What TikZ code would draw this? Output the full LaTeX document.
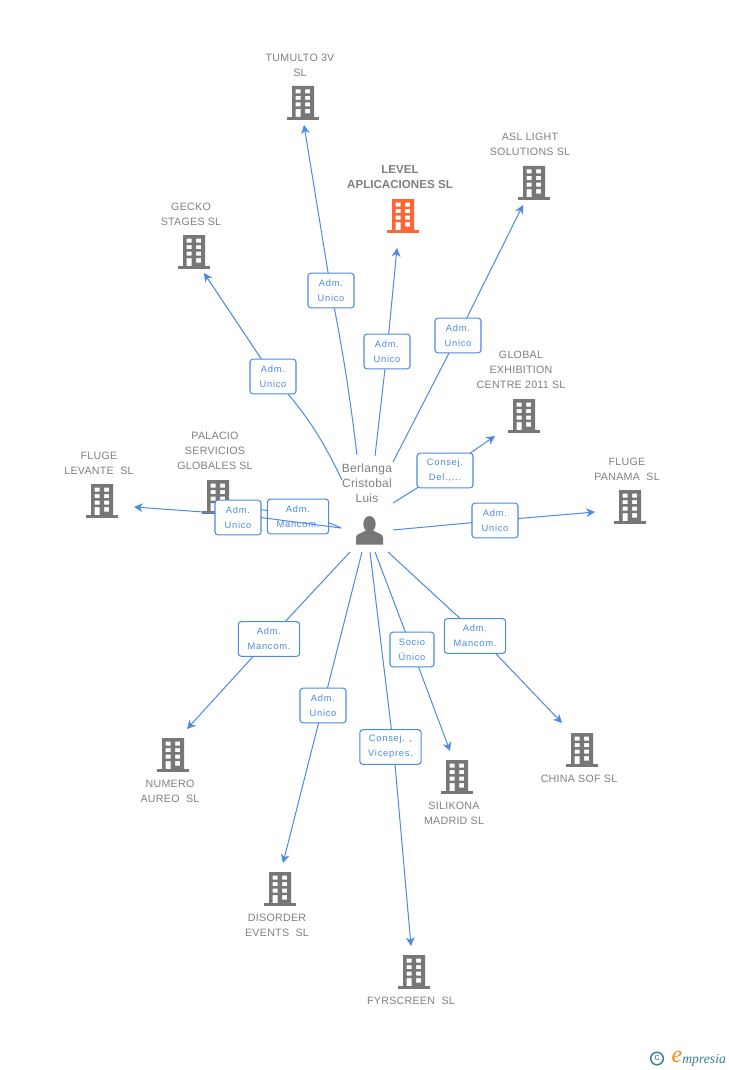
\documentclass[tikz,border=0pt]{standalone}
\usepackage{fontspec}
\setmainfont{Liberation Sans}
\newfontfamily\lblfont[LetterSpace=8]{Liberation Sans}
\newfontfamily\namefont[LetterSpace=2.5]{Liberation Sans}
\newfontfamily\logofont{Liberation Serif}
\usetikzlibrary{arrows.meta,calc}
\definecolor{edgeblue}{HTML}{4C8AE4}
\definecolor{txtgray}{HTML}{808080}
\definecolor{icongray}{HTML}{777777}
\definecolor{iconorange}{HTML}{FF6633}
\definecolor{logoteal}{HTML}{3A7F94}
\definecolor{logoorange}{HTML}{F08A1D}
\tikzset{
  x=0.75pt,y=-0.75pt,
  conn/.style={draw=edgeblue,line width=0.75pt},
  arrowed/.style={conn,-{Stealth[length=6.5pt,width=6.5pt,inset=2pt]}},
  tagbox/.style={draw=edgeblue,line width=0.8pt,rounded corners=2.2pt,fill=white,text=edgeblue,
    font=\fontsize{7}{11.2}\selectfont\lblfont,align=center,inner sep=0pt,minimum height=26pt},
  tagA/.style={tagbox,minimum width=34.5pt},
  tagB/.style={tagbox,minimum width=46pt},
  bname/.style={text=txtgray,font=\fontsize{8}{11.2}\selectfont\namefont,align=center,inner sep=0pt},
  anchorbox/.style={inner sep=0pt,minimum width=24pt,minimum height=26pt},
  pics/building/.style={code={
    \fill[#1,even odd rule]
      (-11,-17) rectangle (11,14)
      (-7.5,-13.5) rectangle (-2.5,-9.5) (2,-13.5) rectangle (7,-9.5)
      (-7.5,-7) rectangle (-2.5,-3) (2,-7) rectangle (7,-3)
      (-7.5,-0.5) rectangle (-2.5,3.5) (2,-0.5) rectangle (7,3.5)
      (-7.5,6) rectangle (-2.5,14) (2,6) rectangle (7,10.5);
    \fill[#1] (-16,14) rectangle (16,17);
  }},
}
\newcommand{\bldg}[3][icongray]{%
  \node[anchorbox] (#2) at (#3) {};
  \pic at (#3) {building=#1};
}
\begin{document}
\begin{tikzpicture}
\useasboundingbox (0,0) rectangle (728,1070);
\fill[white] (0,0) rectangle (728,1070);

% buildings
\bldg{tumulto}{303,103}
\bldg[iconorange]{level}{403,216}
\bldg{asl}{534,183}
\bldg{gecko}{194,252}
\bldg{global}{524,416}
\bldg{palacio}{218,497}
\bldg{levante}{102,501}
\bldg{panama}{630,507}
\bldg{numero}{173,755}
\bldg{disorder}{280,889}
\bldg{fyr}{414,972}
\bldg{silikona}{457,777}
\bldg{china}{582,750}

% building names
\node[bname] (n1) at (300,65) {TUMULTO 3V\\SL};
\node[bname,font=\fontsize{8.7}{11.2}\selectfont\bfseries] (n2) at (400,177) {LEVEL\\APLICACIONES SL};
\node[bname] (n3) at (530,144) {ASL LIGHT\\SOLUTIONS SL};
\node[bname] (n4) at (191,214) {GECKO\\STAGES SL};
\node[bname] (n5) at (521,370) {GLOBAL\\EXHIBITION\\CENTRE 2011 SL};
\node[bname] (n6) at (215,451) {PALACIO\\SERVICIOS\\GLOBALES SL};
\node[bname] (n7) at (99,463) {FLUGE\\LEVANTE~ SL};
\node[bname] (n8) at (627,469) {FLUGE\\PANAMA~ SL};
\node[bname] (n9) at (170,791) {NUMERO\\AUREO~ SL};
\node[bname] (n10) at (277,925) {DISORDER\\EVENTS~ SL};
\node[bname] (n11) at (411,1001) {FYRSCREEN~ SL};
\node[bname] (n12) at (454,813) {SILIKONA\\MADRID SL};
\node[bname] (n13) at (579,779) {CHINA SOF SL};

% person
\node[inner sep=0pt,minimum width=28pt,minimum height=28pt] (person) at (370,530) {};
\fill[icongray] (369.5,524) ellipse (6.2 and 8);
\fill[icongray] (356,544.5) -- (356,537.5) .. controls (356,533.5) and (362,533.5) .. (365.5,530.5)
  -- (373.5,530.5) .. controls (377,533.5) and (383,533.5) .. (383,537.5) -- (383,544.5) -- cycle;
\node[bname,font=\fontsize{9}{11.4}\selectfont\namefont] (pname) at (367,483) {Berlanga\\Cristobal\\Luis};

% routing points of the connectors (under the tags)
\coordinate (a1) at (331,290.5);
\coordinate (a2) at (387,351.5);
\coordinate (a3) at (458,335.5);
\coordinate (a4) at (273,376.5);
\coordinate (a5) at (445,470.5);
\coordinate (a6) at (298,515);
\coordinate (a7) at (238,514.5);
\coordinate (a8) at (495,520.5);
\coordinate (a9) at (269,639);
\coordinate (a10) at (323,705.5);
\coordinate (a11) at (393.5,747);
\coordinate (a12) at (412,649.5);
\coordinate (a13) at (479,636);

% connectors: person to tag, tag to building
\draw[conn] ($(person.center)+(-13,-75)$) to[bend right=2] (a1);
\draw[arrowed] (a1) -- ($(tumulto.center)+(1,22)$);
\draw[conn] ($(person.center)+(5,-74)$) to (a2);
\draw[arrowed] (a2) -- ($(level.center)+(-6,32)$);
\draw[conn] ($(person.center)+(23,-68)$) to (a3);
\draw[arrowed] (a3) -- ($(asl.center)+(-11,22)$);
\draw[conn] ($(person.center)+(-28,-50)$) to[bend right=8] (a4);
\draw[arrowed] (a4) -- ($(gecko.center)+(10,21)$);
\draw[conn] ($(person.center)+(23,-27)$) to (a5);
\draw[arrowed] (a5) -- ($(global.center)+(-29,20)$);
\draw[conn] ($(person.center)+(23,0)$) to (a8);
\draw[arrowed] (a8) -- ($(panama.center)+(-35,5)$);
\draw[conn] ($(person.center)+(-29,-2)$) to[bend right=8] (a6);
\draw[arrowed] (a6) -- ($(palacio.center)+(18,9)$);
\draw[conn] ($(person.center)+(-20,22)$) to (a9);
\draw[arrowed] (a9) -- ($(numero.center)+(14,-26)$);
\draw[conn] ($(person.center)+(-8,22)$) to (a10);
\draw[arrowed] (a10) -- ($(disorder.center)+(3,-26)$);
\draw[conn] ($(person.center)+(0,22)$) to (a11);
\draw[arrowed] (a11) -- ($(fyr.center)+(-3,-26)$);
\draw[conn] ($(person.center)+(5,22)$) to (a12);
\draw[arrowed] (a12) -- ($(silikona.center)+(-7,-26)$);
\draw[conn] ($(person.center)+(18,22)$) to (a13);
\draw[arrowed] (a13) -- ($(china.center)+(-20,-27)$);

% tags
\node[tagA] (t1) at (331,290.5) {Adm.\\Unico};
\node[tagA] (t2) at (387,351.5) {Adm.\\Unico};
\node[tagA] (t3) at (458,335.5) {Adm.\\Unico};
\node[tagA] (t4) at (273,376.5) {Adm.\\Unico};
\node[tagbox,minimum width=42pt] (t5) at (445,470.5) {Consej.\\Del.,...};
\node[tagB] (t6) at (298,516.5) {Adm.\\Mancom.};
\node[tagA] (t8) at (495,520.5) {Adm.\\Unico};
\node[tagB] (t9) at (269,639) {Adm.\\Mancom.};
\node[tagA] (t10) at (323,705.5) {Adm.\\Unico};
\node[tagB] (t11) at (390.5,747) {Consej. ,\\Vicepres.};
\node[tagbox,minimum width=33pt] (t12) at (412,649.5) {Socio\\Único};
\node[tagB] (t13) at (475,636) {Adm.\\Mancom.};

% this connector runs over the Mancom. tag, and under its own tag
\draw[conn] ($(person.center)+(-29,-2)$) to (a7);
\draw[arrowed] (a7) -- ($(levante.center)+(32,6)$);
\node[tagA] (t7) at (238,517.5) {Adm.\\Unico};

% logo
\draw[draw=logoteal,line width=1.1pt] (657,1058.5) circle (6.3);
\node[inner sep=0pt,text=logoteal,font=\fontsize{7.5}{7.5}\selectfont] (lc) at (657,1058) {c};
\node[inner sep=0pt,text=logoorange,font=\fontsize{18}{18}\selectfont\logofont\itshape] (le) at (677,1056.5) {e};
\node[inner sep=0pt,anchor=west,text=logoteal,font=\fontsize{10.3}{10.3}\selectfont\logofont\itshape] (lm) at (682,1060) {mpresia};
\end{tikzpicture}
\end{document}
